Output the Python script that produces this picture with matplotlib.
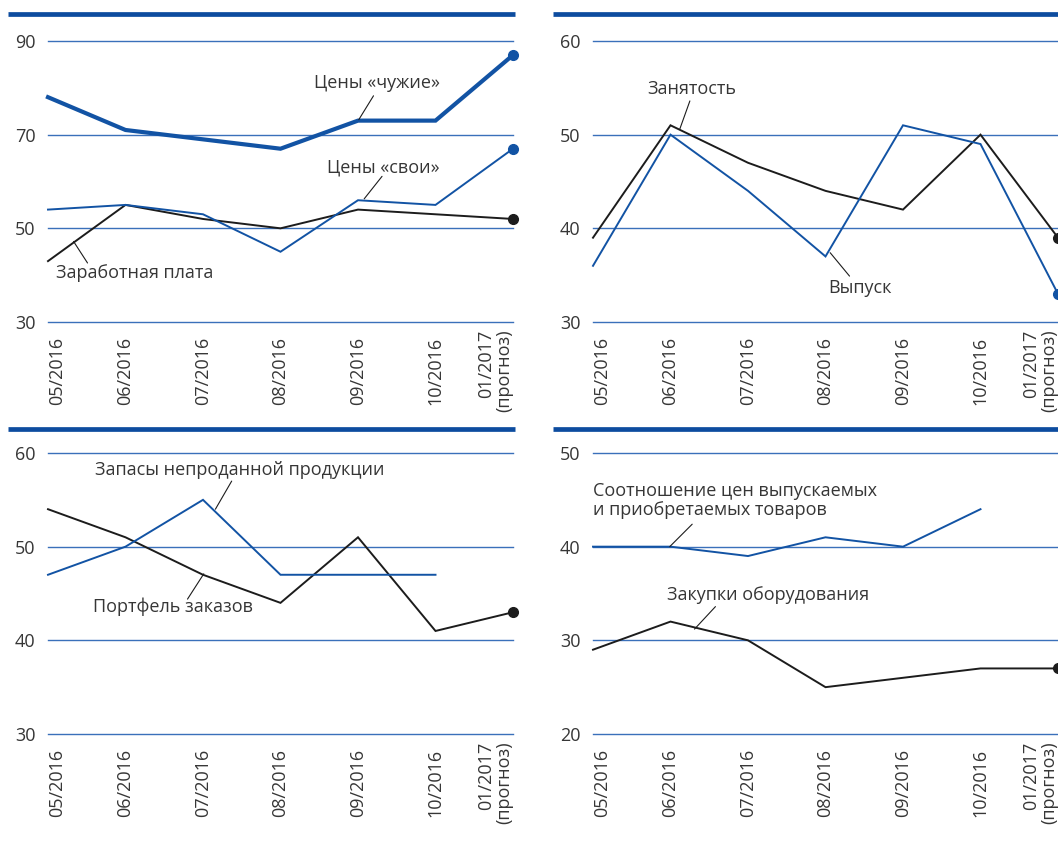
import matplotlib.pyplot as plt
from matplotlib.lines import Line2D
import numpy as np

plt.rcParams['font.family'] = ['Open Sans', 'DejaVu Sans']

months = ['05/2016', '06/2016', '07/2016', '08/2016', '09/2016', '10/2016', '01/2017\n(прогноз)']

prices_foreign = [78, 71, 69, 67, 73, 73, 87]
prices_own = [54, 55, 53, 45, 56, 55, 67]
wages = [43, 55, 52, 50, 54, 53, 52]

employment = [39, 51, 47, 44, 42, 50, 39]
output = [36, 50, 44, 37, 51, 49, 33]

inventories = [47, 50, 55, 47, 47, 47, np.nan]
orders = [54, 51, 47, 44, 51, 41, 43]

price_ratio = [40, 40, 39, 41, 40, 44, np.nan]
equipment = [29, 32, 30, 25, 26, 27, 27]

BLUE = '#1253a4'
GRID = '#3a70ba'
BLACK = '#1c1c1c'
TEXT = '#363636'

W, H = 1058, 841
fig = plt.figure(figsize=(W / 100, H / 100), dpi=100)
fig.patch.set_facecolor('white')


def make_ax(left, top, ylim, yticks):
    ax = fig.add_axes([left / W, 1 - (top + 281) / H, 465 / W, 281 / H])
    ax.set_xlim(0, 6)
    ax.set_ylim(*ylim)
    ax.set_yticks(yticks)
    ax.yaxis.grid(True, color=GRID, lw=1.0)
    for g in ax.get_ygridlines():
        g.set_clip_on(False)
    ax.set_axisbelow(True)
    for s in ax.spines.values():
        s.set_visible(False)
    ax.tick_params(axis='y', length=0, pad=9, labelsize=13, labelcolor=TEXT)
    ax.tick_params(axis='x', length=0, pad=35, labelsize=13, labelcolor=TEXT)
    x = np.arange(len(months))
    ax.set_xticks(x)
    ax.set_xticklabels(months, rotation=90, linespacing=1.0)
    labels = ax.get_xticklabels()
    for lab in labels:
        lab.set_va('center')
        lab.set_ha('center')
    labels[0].set_ha('left')
    labels[-1].set_ha('right')
    return ax, x


def series(ax, x, y, color, lw, marker=True):
    ax.plot(x, y, color=color, lw=lw, solid_joinstyle='miter', clip_on=False, zorder=3)
    if marker:
        ax.plot(x[-1], y[-1], 'o', color=color, ms=7, clip_on=False, zorder=4)


def note(ax, text, txy, p0, p1, ha='center'):
    ax.text(txy[0], txy[1], text, ha=ha, va='center', fontsize=13, color=TEXT, zorder=5)
    ax.annotate('', xy=p1, xytext=p0,
                arrowprops=dict(arrowstyle='-', color=BLACK, lw=0.8, shrinkA=0, shrinkB=0))


# top bars
for x0, x1, yy in [(8, 515, 14), (553, 1058, 14), (8, 515, 429), (553, 1058, 429)]:
    fig.add_artist(Line2D([x0 / W, x1 / W], [1 - yy / H] * 2, lw=3.4, color='#0d4c9f',
                          solid_capstyle='butt'))

# top-left
ax, x = make_ax(48, 41, (30, 90), [30, 50, 70, 90])
series(ax, x, wages, BLACK, 1.4)
series(ax, x, prices_own, BLUE, 1.4)
series(ax, x, prices_foreign, BLUE, 3.0)
note(ax, 'Цены «чужие»', (4.25, 81.1), (4.20, 78.3), (4.01, 73.2))
note(ax, 'Цены «свои»', (4.33, 63.0), (4.31, 61.1), (4.08, 56.3))
note(ax, 'Заработная плата', (1.12, 40.4), (0.51, 42.6), (0.33, 47.2))

# top-right
ax, x = make_ax(593, 41, (30, 60), [30, 40, 50, 60])
series(ax, x, employment, BLACK, 1.4)
series(ax, x, output, BLUE, 1.4)
note(ax, 'Занятость', (1.28, 54.9), (1.25, 53.6), (1.12, 50.6))
note(ax, 'Выпуск', (3.44, 33.6), (3.31, 34.9), (3.06, 37.4))

# bottom-left
ax, x = make_ax(48, 453, (30, 60), [30, 40, 50, 60])
series(ax, x, orders, BLACK, 1.4)
series(ax, x, inventories, BLUE, 1.4, marker=False)
note(ax, 'Запасы непроданной продукции', (2.48, 58.2), (2.37, 57.0), (2.16, 54.0))
note(ax, 'Портфель заказов', (1.61, 43.6), (1.80, 44.4), (2.01, 47.1))

# bottom-right
ax, x = make_ax(593, 453, (20, 50), [20, 30, 40, 50])
series(ax, x, equipment, BLACK, 1.4)
series(ax, x, price_ratio, BLUE, 1.4, marker=False)
ax.text(0.0, 44.9, 'Соотношение цен выпускаемых\nи приобретаемых товаров', ha='left', va='center',
        fontsize=13, color=TEXT, linespacing=1.05, zorder=5)
ax.annotate('', xy=(0.99, 40.0), xytext=(1.28, 42.4),
            arrowprops=dict(arrowstyle='-', color=BLACK, lw=0.8, shrinkA=0, shrinkB=0))
note(ax, 'Закупки оборудования', (0.95, 34.8), (1.58, 33.6), (1.31, 31.2), ha='left')

fig.savefig('out.png', dpi=100)
